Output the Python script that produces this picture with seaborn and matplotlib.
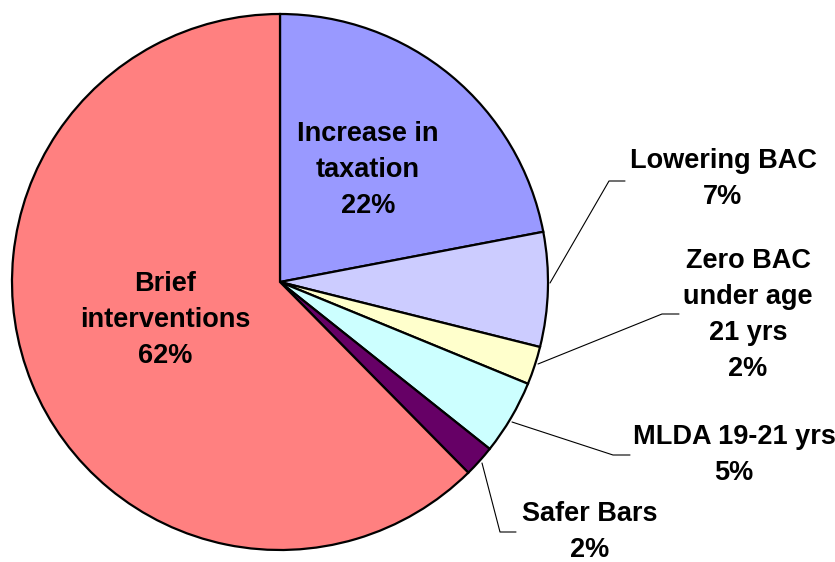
import matplotlib
matplotlib.use("Agg")
import matplotlib.pyplot as plt
import seaborn as sns

sns.set_theme(style="white")
plt.rcParams['font.family'] = ['Liberation Sans', 'DejaVu Sans']

categories = ["Increase in\ntaxation", "Lowering BAC", "Zero BAC\nunder age\n21 yrs",
              "MLDA 19-21 yrs", "Safer Bars", "Brief\ninterventions"]
shares = [22.0, 6.9, 2.3, 4.5, 1.9, 62.4]
pct_labels = ["22%", "7%", "2%", "5%", "2%", "62%"]
colors = ["#9999FF", "#CCCCFF", "#FFFFCC", "#CCFFFF", "#660066", "#FF8080"]

fig = plt.figure(figsize=(8.35, 5.62), dpi=100)
ax = fig.add_axes([0, 0, 1, 1])

cx, cy, r = 280, 282, 268
# y axis is inverted (pixel-like coords), so draw counterclockwise from -90
ax.pie(shares, colors=colors, startangle=-90, counterclock=True,
       center=(cx, cy), radius=r, frame=True,
       wedgeprops=dict(edgecolor="black", linewidth=1.6))
ax.set_xlim(0, 835)
ax.set_ylim(562, 0)
ax.set_aspect("equal")
ax.axis("off")

# label positions (text centers) and leader lines
label_pos = [(368, 170), (723, 179), (748, 315), (734, 455), (590, 532), (165, 320)]
leaders = [None,
           [(550, 283), (609, 181), (625, 181)],
           [(538, 364), (662, 314), (679, 314)],
           [(512, 422), (613, 455), (630, 455)],
           [(482, 463), (500, 532), (516, 532)],
           None]

for cat, pct, (x, y), ld in zip(categories, pct_labels, label_pos, leaders):
    ax.text(x, y, f"{cat}\n{pct}", ha="center", va="center", fontsize=19.5,
            fontweight="bold", linespacing=1.5, color="black")
    if ld is not None:
        xs, ys = zip(*ld)
        ax.plot(xs, ys, color="black", linewidth=0.8)

fig.savefig("out.png", dpi=100)
